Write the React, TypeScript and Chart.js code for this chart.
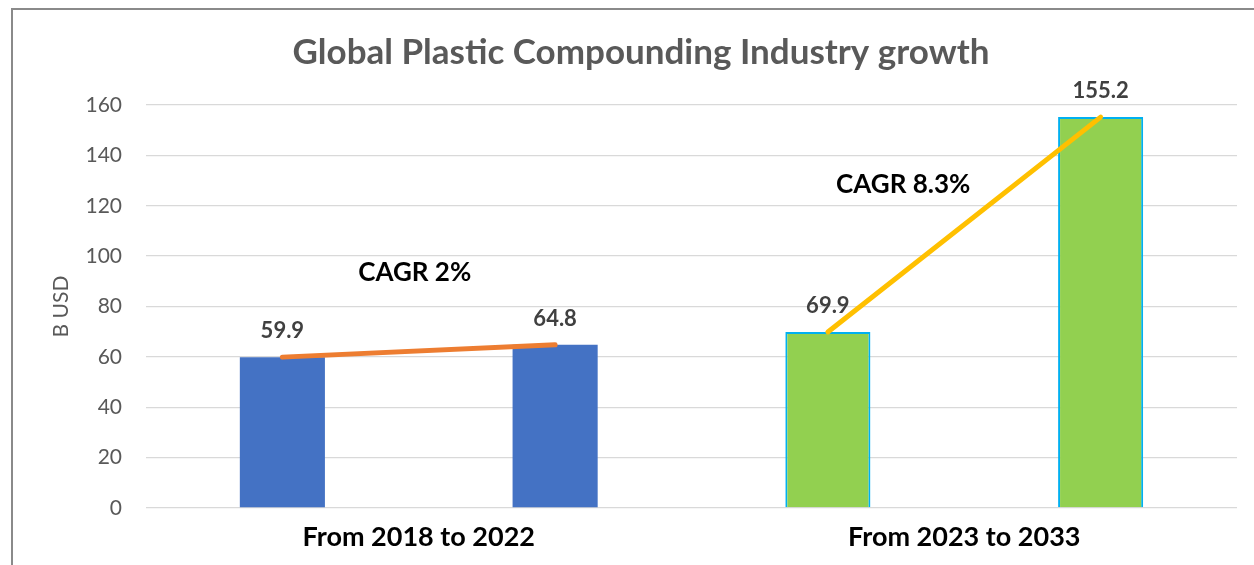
import React, { useEffect, useRef } from "react";
import { Chart, registerables } from "chart.js";

Chart.register(...registerables);

const categories = ["From 2018 to 2022", "From 2023 to 2033"];
const startValues = [59.9, 69.9];
const endValues = [64.8, 155.2];
const startColors = ["#4472C4", "#92D050"];
const endColors = ["#4472C4", "#92D050"];
const barBorderColors = ["#4472C4", "#00B0F0"];
const trendColors = ["#ED7D31", "#FFC000"];
const cagrTexts = ["CAGR 2%", "CAGR 8.3%"];
const cagrAnchorValues = [93.3, 128.2];
const yTicks = [0, 20, 40, 60, 80, 100, 120, 140, 160];

const FONT = "Lato, 'Open Sans', sans-serif";

const overlayPlugin = {
  id: "overlay",
  afterDatasetsDraw(chart: any) {
    const ctx = chart.ctx;
    const m0 = chart.getDatasetMeta(0);
    const m1 = chart.getDatasetMeta(1);
    const xs = chart.scales.x;
    const ys = chart.scales.y;
    ctx.save();
    // trend lines
    for (let i = 0; i < categories.length; i++) {
      const a = m0.data[i];
      const b = m1.data[i];
      ctx.beginPath();
      ctx.strokeStyle = trendColors[i];
      ctx.lineWidth = 5;
      ctx.lineCap = "round";
      ctx.moveTo(a.x, a.y);
      ctx.lineTo(b.x, b.y);
      ctx.stroke();
    }
    // value labels
    ctx.font = `bold 22px ${FONT}`;
    ctx.fillStyle = "#404040";
    ctx.textAlign = "center";
    ctx.textBaseline = "middle";
    [m0, m1].forEach((meta: any, di: number) => {
      const vals = di === 0 ? startValues : endValues;
      meta.data.forEach((el: any, i: number) => {
        ctx.fillText(vals[i].toFixed(1), el.x, el.y - 26);
      });
    });
    // CAGR annotations
    const xOffsets = [-4, -61];
    ctx.font = `bold 26px ${FONT}`;
    ctx.fillStyle = "#000000";
    cagrTexts.forEach((t, i) => {
      const x = xs.getPixelForValue(i) + xOffsets[i];
      const y = ys.getPixelForValue(cagrAnchorValues[i]);
      ctx.fillText(t, x, y);
    });
    ctx.restore();
  },
};

export default function App() {
  const ref = useRef<HTMLCanvasElement>(null);
  useEffect(() => {
    if (!ref.current) return;
    const chart = new Chart(ref.current, {
      type: "bar",
      data: {
        labels: categories,
        datasets: [
          {
            label: "Start",
            data: startValues,
            backgroundColor: startColors,
            borderColor: barBorderColors,
            borderWidth: [0, 2],
            barPercentage: 0.312,
            categoryPercentage: 1,
          },
          {
            label: "End",
            data: endValues,
            backgroundColor: endColors,
            borderColor: barBorderColors,
            borderWidth: [0, 2],
            barPercentage: 0.312,
            categoryPercentage: 1,
          },
        ],
      },
      options: {
        animation: false,
        responsive: false,
        devicePixelRatio: 1,
        layout: { padding: { left: 45, right: 17, top: 0, bottom: 0 } },
        plugins: {
          legend: { display: false },
          tooltip: { enabled: false },
          title: {
            display: true,
            text: "Global Plastic Compounding Industry growth",
            color: "#595959",
            font: { family: FONT, size: 35, weight: "bold" },
            padding: { top: 32, bottom: 31 },
          },
        },
        scales: {
          x: {
            grid: { display: false, drawTicks: false },
            border: { display: false },
            ticks: {
              color: "#000000",
              font: { family: FONT, size: 27, weight: "bold" },
              padding: 13,
              maxRotation: 0,
            },
            afterFit: (s: any) => {
              s.height = 57;
            },
          },
          y: {
            min: 0,
            max: 160,
            afterBuildTicks: (s: any) => {
              s.ticks = yTicks.map((v) => ({ value: v }));
            },
            grid: { color: "#d9d9d9", lineWidth: 1.3, drawTicks: false },
            border: { display: false },
            ticks: {
              color: "#595959",
              font: { family: FONT, size: 21 },
              padding: 24,
            },
            title: {
              display: true,
              text: "B USD",
              color: "#595959",
              font: { family: FONT, size: 21 },
              padding: { top: 4, bottom: 0 },
            },
            afterFit: (s: any) => {
              s.width = 101;
            },
          },
        },
      },
      plugins: [overlayPlugin],
    });
    return () => chart.destroy();
  }, []);
  return (
    <div style={{ position: "fixed", left: 0, top: 0, width: 1254, height: 565, overflow: "hidden", background: "#fff" }}>
      <div
        style={{
          position: "absolute",
          left: 11,
          top: 8,
          width: 1400,
          height: 800,
          border: "2px solid #8a8a8a",
          boxSizing: "border-box",
        }}
      />
      <canvas ref={ref} width={1254} height={565} style={{ position: "absolute", left: 0, top: 0 }} />
    </div>
  );
}
